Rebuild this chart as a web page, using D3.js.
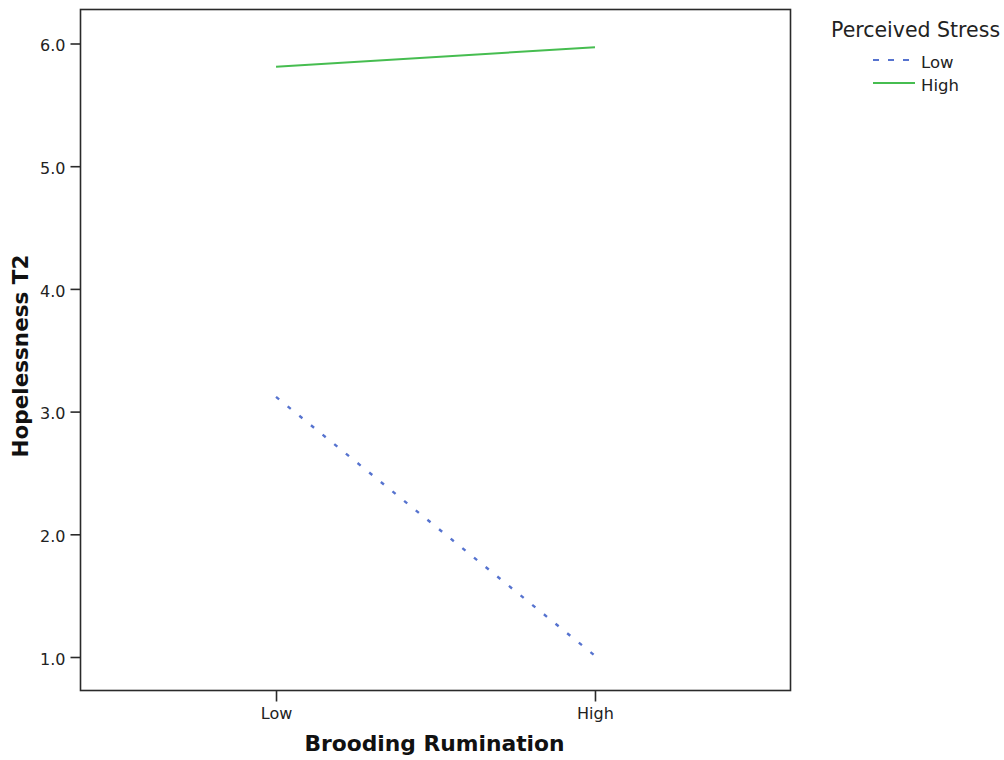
<!DOCTYPE html>
<html>
<head>
<meta charset="utf-8">
<script src="https://cdn.jsdelivr.net/npm/d3@7"></script>
<style>
  html, body { margin: 0; padding: 0; background: #fff; }
  svg { display: block; font-family: "DejaVu Sans", Verdana, sans-serif; }
</style>
</head>
<body>
<svg id="chart" width="1004" height="760"></svg>
<script>
const categories = ["Low", "High"];
const seriesNames = ["Low", "High"];
const lowStress = [3.12, 1.01];
const highStress = [5.81, 5.97];
const yTicks = [1.0, 2.0, 3.0, 4.0, 5.0, 6.0];
const colors = ["#5673cf", "#46bd50"];

(function () {
const svg = d3.select("#chart");
const FONT = "DejaVu Sans, Verdana, sans-serif";
const pLeft = 80.5, pRight = 790.5, pTop = 9.5, pBottom = 690.5;

const x = d3.scalePoint().domain(categories).range([pLeft, pRight]).padding(0.613);
const y = d3.scaleLinear().domain([1, 6]).range([657, 43.5]);

// frame
svg.append("rect").attr("x", pLeft).attr("y", pTop)
  .attr("width", pRight - pLeft).attr("height", pBottom - pTop)
  .attr("fill", "none").attr("stroke", "#2a2a2a").attr("stroke-width", 1.6);

// y axis
const yAxis = d3.axisLeft(y).tickValues(yTicks).tickFormat(d3.format(".1f")).tickSize(10).tickPadding(5);
const gy = svg.append("g").attr("transform", `translate(${pLeft},0)`).call(yAxis);
gy.select(".domain").remove();
gy.selectAll(".tick line").attr("stroke", "#2a2a2a").attr("stroke-width", 1.6);
gy.selectAll(".tick text").attr("fill", "#222").attr("dy", "0.45em")
  .style("font-size", "16px").style("font-family", FONT);

// x axis
const xAxis = d3.axisBottom(x).tickSize(11).tickPadding(6);
const gx = svg.append("g").attr("transform", `translate(0,${pBottom})`).call(xAxis);
gx.select(".domain").remove();
gx.selectAll(".tick line").attr("stroke", "#2a2a2a").attr("stroke-width", 1.6);
gx.selectAll(".tick text").attr("fill", "#222")
  .style("font-size", "16px").style("font-family", FONT);

// axis titles
svg.append("text").attr("x", (pLeft + pRight) / 2 - 1).attr("y", 751)
  .attr("text-anchor", "middle").attr("font-weight", "bold").attr("font-size", 21.8)
  .attr("font-family", FONT).attr("fill", "#111").text("Brooding Rumination");
svg.append("text").attr("transform", `translate(28,356) rotate(-90)`)
  .attr("text-anchor", "middle").attr("font-weight", "bold").attr("font-size", 21.5)
  .attr("font-family", FONT).attr("fill", "#111").text("Hopelessness T2");

// lines
const line = d3.line().x((d, i) => x(categories[i])).y(d => y(d));
const series = [lowStress, highStress];
series.forEach((s, i) => {
  svg.append("path").datum(s).attr("d", line)
    .attr("fill", "none").attr("stroke", colors[i])
    .attr("stroke-width", i === 0 ? 2.4 : 2)
    .attr("stroke-dasharray", i === 0 ? "4,11" : null);
});

// legend
svg.append("text").attr("x", 831).attr("y", 37).attr("font-size", 20.5)
  .attr("font-family", FONT).attr("fill", "#222").text("Perceived Stress");
seriesNames.forEach((n, i) => {
  const yy = 60 + i * 23;
  svg.append("line").attr("x1", 873).attr("x2", 915).attr("y1", yy).attr("y2", yy)
    .attr("stroke", colors[i]).attr("stroke-width", 2.2)
    .attr("stroke-dasharray", i === 0 ? "6,9" : null);
  svg.append("text").attr("x", 921).attr("y", yy + 8).attr("font-size", 16.5)
    .attr("font-family", FONT).attr("fill", "#222").text(n);
});
})();
</script>
</body>
</html>
